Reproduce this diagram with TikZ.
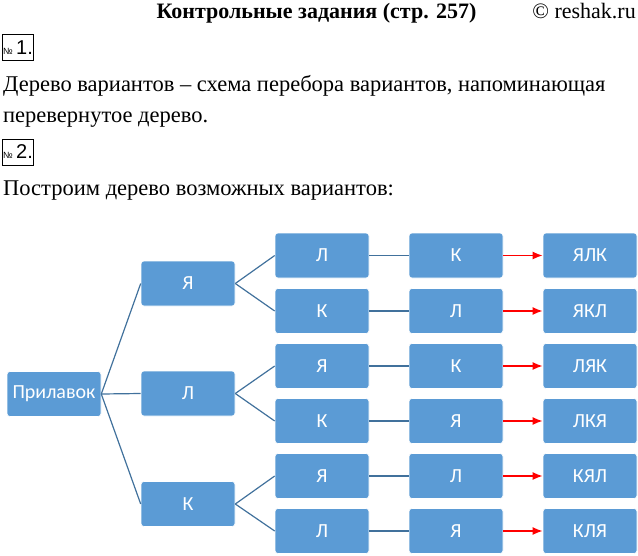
\documentclass[tikz,border=0pt]{standalone}
\usepackage{fontspec}
\setmainfont{Liberation Serif}
\newfontfamily\treefont{Carlito}
\newfontfamily\numfont{Liberation Sans}
\usepackage{tikz}
\usetikzlibrary{arrows.meta, positioning}

\definecolor{boxblue}{HTML}{5B9BD5}
\definecolor{lineblue}{HTML}{41719C}

\tikzset{
    box/.style={rectangle,fill=boxblue,draw=white,line width=0.6pt,rounded corners=3pt,minimum width=94pt,minimum height=45pt,text=white,font=\treefont\fontsize{20}{24}\selectfont},
    branch/.style={draw=lineblue,line width=1.2pt},
    result/.style={-{Latex[length=10pt,width=8pt]},draw=red,line width=1.6pt},
    numbox/.style={draw,line width=1pt,inner sep=0pt,minimum width=31pt,minimum height=26pt,font=\numfont\fontsize{20}{20}\selectfont},
    bodytext/.style={anchor=base west,inner sep=0pt,font=\fontsize{22.5}{26}\selectfont}
}

\begin{document}
\begin{tikzpicture}[x=1pt,y=-1pt]
    \useasboundingbox (0,0) rectangle (638,555);

    % Заголовок
    \node[anchor=base,inner sep=0pt,font=\bfseries\fontsize{22}{24}\selectfont] (title) at (316.5,18) {Контрольные задания (стр. 257)};
    \node[anchor=base east,inner sep=0pt,font=\fontsize{22}{24}\selectfont] (site) at (636,18) {© reshak.ru};

    % Задание 1
    \node[numbox] (n1) at (18,47.5) {{\fontsize{9}{9}\selectfont №}\,1.};
    \node[bodytext] (t1) at (3,91) {Дерево вариантов – схема перебора вариантов, напоминающая};
    \node[bodytext] (t2) at (3,122) {перевернутое дерево.};

    % Задание 2
    \node[numbox] (n2) at (18,152) {{\fontsize{9}{9}\selectfont №}\,2.};
    \node[bodytext] (t3) at (3,195) {Построим дерево возможных вариантов:};

    % Корень и первый уровень
    \node[box] (root) at (54,394) {Прилавок};
    \node[box] (s1) at (188,283.5) {Я};
    \node[box] (s2) at (188,393.5) {Л};
    \node[box] (s3) at (188,504) {К};

    \draw[branch] (root.east) -- (s1.west);
    \draw[branch] (root.east) -- (s2.west);
    \draw[branch] (root.east) -- (s3.west);

    % Ветка Я
    \node[box] (a1) at (322,255.5) {Л};
    \node[box] (b1) at (456,255.5) {К};
    \node[box] (r1) at (590,255.5) {ЯЛК};
    \node[box] (a2) at (322,311) {К};
    \node[box] (b2) at (456,311) {Л};
    \node[box] (r2) at (590,311) {ЯКЛ};

    \draw[branch] (s1.east) -- (a1.west);
    \draw[branch] (s1.east) -- (a2.west);
    \draw[branch] (a1) -- (b1);
    \draw[branch] (a2) -- (b2);
    \draw[result] (b1) -- (r1);
    \draw[result] (b2) -- (r2);

    % Ветка Л
    \node[box] (a3) at (322,366) {Я};
    \node[box] (b3) at (456,366) {К};
    \node[box] (r3) at (590,366) {ЛЯК};
    \node[box] (a4) at (322,421) {К};
    \node[box] (b4) at (456,421) {Я};
    \node[box] (r4) at (590,421) {ЛКЯ};

    \draw[branch] (s2.east) -- (a3.west);
    \draw[branch] (s2.east) -- (a4.west);
    \draw[branch] (a3) -- (b3);
    \draw[branch] (a4) -- (b4);
    \draw[result] (b3) -- (r3);
    \draw[result] (b4) -- (r4);

    % Ветка К
    \node[box] (a5) at (322,476) {Я};
    \node[box] (b5) at (456,476) {Л};
    \node[box] (r5) at (590,476) {КЯЛ};
    \node[box] (a6) at (322,531) {Л};
    \node[box] (b6) at (456,531) {Я};
    \node[box] (r6) at (590,531) {КЛЯ};

    \draw[branch] (s3.east) -- (a5.west);
    \draw[branch] (s3.east) -- (a6.west);
    \draw[branch] (a5) -- (b5);
    \draw[branch] (a6) -- (b6);
    \draw[result] (b5) -- (r5);
    \draw[result] (b6) -- (r6);
\end{tikzpicture}
\end{document}
